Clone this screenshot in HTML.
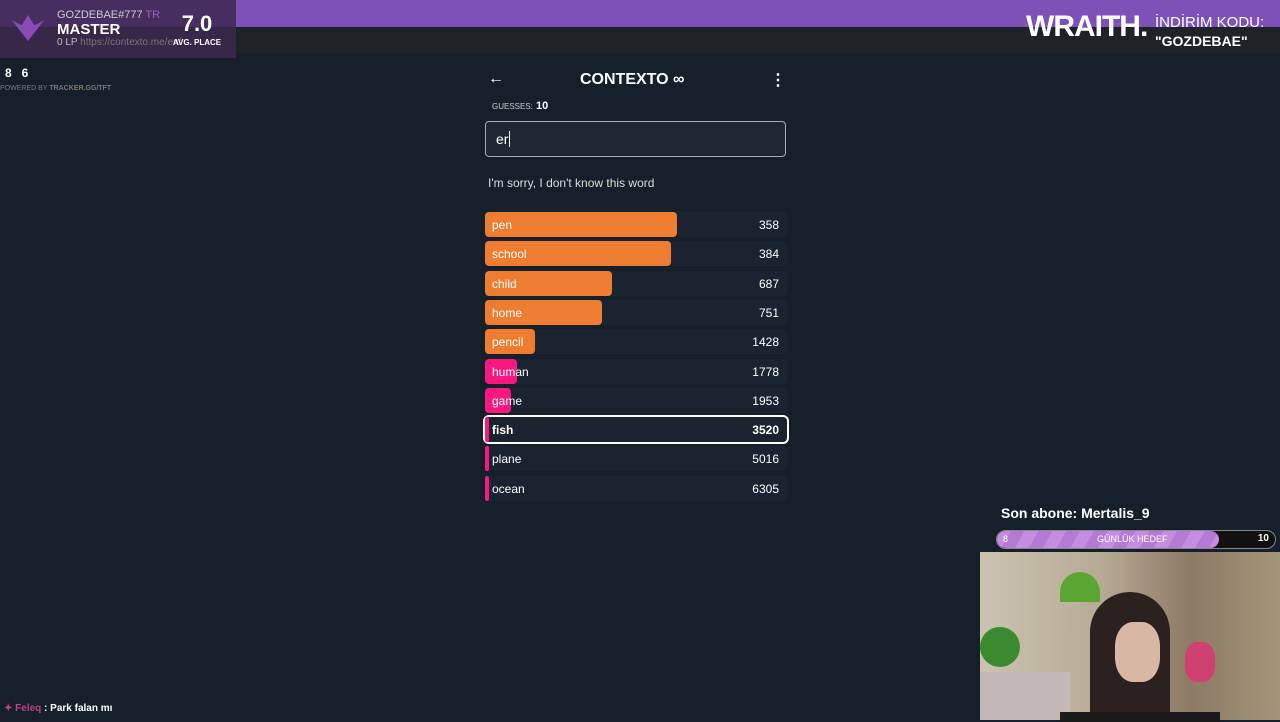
<!DOCTYPE html>
<html><head><meta charset="utf-8">
<style>
*{margin:0;padding:0;box-sizing:border-box}
body{width:1280px;height:720px;overflow:hidden;background:#15202b;font-family:"Liberation Sans",sans-serif;color:#fff;position:relative}
.abs{position:absolute}
</style></head><body>
<div class="abs" style="left:0;top:0;width:1280px;height:27px;background:#7d52b8"></div>
<div class="abs" style="left:0;top:27px;width:1280px;height:26px;background:#1f2327"></div>
<div class="abs" style="left:0;top:0;width:236px;height:58px;background:rgba(60,40,80,0.85)"></div>
<div class="abs" style="left:12px;top:15px;width:32px;height:26px;background:#8a4bb5;clip-path:polygon(50% 100%,0 20%,30% 40%,50% 0,70% 40%,100% 20%)"></div>
<div class="abs" style="left:57px;top:9px;font-size:11px;color:#ccc">GOZDEBAE#777 <span style="color:#a05bd0">TR</span></div>
<div class="abs" style="left:57px;top:21px;font-size:15px;font-weight:bold">MASTER</div>
<div class="abs" style="left:57px;top:37px;font-size:10px;color:#bbb">0 LP <span style="color:#777">https://contexto.me/en/</span></div>
<div class="abs" style="left:172px;top:11px;font-size:22px;font-weight:bold;width:50px;text-align:center">7.0</div>
<div class="abs" style="left:166px;top:38px;font-size:8px;font-weight:bold;width:62px;text-align:center">AVG. PLACE</div>
<div class="abs" style="left:5px;top:66px;font-size:12px;font-weight:bold">8 &nbsp;&nbsp;6</div>
<div class="abs" style="left:0;top:85px;font-size:7px;color:#777">POWERED BY <b>TRACKER.GG/TFT</b></div>
<div class="abs" style="left:1026px;top:10px;font-size:30px;font-weight:900;letter-spacing:-1px">WRAITH.</div>
<div class="abs" style="left:1155px;top:14px;font-size:15px;line-height:18px">İNDİRİM KODU:<br><b style="font-size:14px">"GOZDEBAE"</b></div>

<div class="abs" style="left:488px;top:70px;font-size:16px">←</div>
<div class="abs" style="left:580px;top:71px;font-size:16px;font-weight:bold">CONTEXTO ∞</div>
<div class="abs" style="left:770px;top:70px;font-size:16px;font-weight:bold">⋮</div>
<div class="abs" style="left:492px;top:100px;font-size:11px;font-weight:bold"><span style="font-size:8px;font-weight:normal;color:#ccc">GUESSES:</span> 10</div>
<div class="abs" style="left:485px;top:121px;width:301px;height:36px;border:1px solid #aab;border-radius:4px;background:#1e2732;font-size:14px;padding:9px 10px">er<span style="border-left:1px solid #fff;margin-left:1px"></span></div>
<div class="abs" style="left:488px;top:176px;font-size:12px;color:#ddd">I'm sorry, I don't know this word</div>
<div id="list"></div>

<div class="abs" style="left:1001px;top:505px;font-size:14px;font-weight:bold;width:279px;height:22px;background:#15202b">Son abone: Mertalis_9</div>
<div class="abs" style="left:996px;top:530px;width:280px;height:19px;border:1px solid #888;border-radius:10px;background:#111;overflow:hidden">
<div style="width:222px;height:100%;background:repeating-linear-gradient(120deg,#c38de0 0 12px,#b57ad4 12px 24px);border-radius:10px"></div>
<div class="abs" style="left:6px;top:3px;font-size:9px">8</div>
<div class="abs" style="left:100px;top:3px;font-size:9px">GÜNLÜK HEDEF</div>
<div class="abs" style="right:6px;top:2px;font-size:10px;font-weight:bold">10</div></div>
<div class="abs" style="left:980px;top:552px;width:300px;height:168px;background:linear-gradient(90deg,#c9c3b0 0,#b8ab95 40%,#8c7a65 70%,#a39579 100%)">
<div class="abs" style="left:0;top:120px;width:90px;height:48px;background:#c4b8b6"></div>
<div class="abs" style="left:80px;top:20px;width:40px;height:30px;background:#5aa632;border-radius:20px 20px 0 0"></div>
<div class="abs" style="left:0;top:75px;width:40px;height:40px;background:#3a8a30;border-radius:50%"></div>
<div class="abs" style="left:110px;top:40px;width:80px;height:128px;background:#2b2220;border-radius:40px 40px 0 0"></div>
<div class="abs" style="left:135px;top:70px;width:45px;height:60px;background:#d8b8a5;border-radius:40%"></div>
<div class="abs" style="left:80px;top:160px;width:160px;height:10px;background:#1a1a1a"></div>
<div class="abs" style="left:205px;top:90px;width:30px;height:40px;background:#d04070;border-radius:40%"></div>
</div>
<div class="abs" style="left:4px;top:703px;font-size:10px;font-weight:bold"><span style="color:#c04080">✦ Feleq</span> : Park falan mı</div>

<script>
const words=["pen","school","child","home","pencil","human","game","fish","plane","ocean"];
const ranks=[358,384,687,751,1428,1778,1953,3520,5016,6305];
const current=["fish"];
const list=document.getElementById('list');
const L=485,W=302,T=212,H=25,G=29.3;
function barW(r){return Math.max(4,W*Math.exp(-0.00126*r));}
function color(r){return r<300?'#00ba7c':(r<1500?'#ef7d31':'#f91880');}
words.forEach((w,i)=>{
 const r=ranks[i];
 const row=document.createElement('div');
 
 
 const cur=current.includes(w);
 row.style.cssText=`position:absolute;left:${L}px;top:${T+i*G}px;width:${W}px;height:${H}px;background:#1a2430;border-radius:4px;${cur?'outline:2px solid #fff;':''}`;
 const bar=document.createElement('div');
 
 
 bar.style.cssText=`position:absolute;left:0;top:0;height:100%;width:${barW(r)}px;background:${color(r)};border-radius:4px`;
 row.appendChild(bar);
 const lb=document.createElement('div');
 
 
 lb.textContent=w;
 lb.style.cssText=`position:absolute;left:7px;top:6px;font-size:12px;${cur?'font-weight:bold;':''}`;
 row.appendChild(lb);
 const rv=document.createElement('div');
 
 
 rv.textContent=r;
 rv.style.cssText=`position:absolute;right:8px;top:6px;font-size:12px;${cur?'font-weight:bold;':''}`;
 row.appendChild(rv);
 list.appendChild(row);
});
</script>
</body></html>
